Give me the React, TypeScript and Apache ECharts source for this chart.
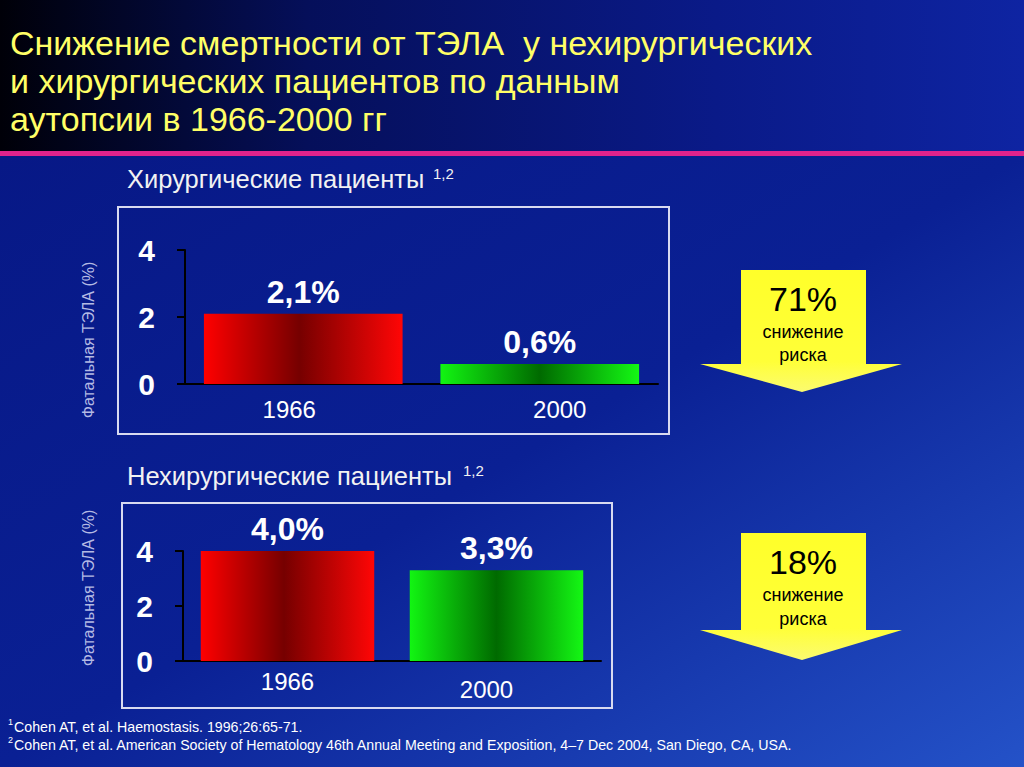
import React, { useEffect, useRef } from "react";
import * as echarts from "echarts";

const years = ["1966", "2000"];
const surgicalValues = [2.1, 0.6];
const nonSurgicalValues = [4.0, 3.3];
const yMin = 0;
const yMax = 4;
const yInterval = 2;
const riskReduction = ["71%", "18%"];
const titleLines = [
  "Снижение смертности от ТЭЛА  у нехирургических",
  "и хирургических пациентов по данным",
  "аутопсии в 1966-2000 гг",
];
const panelTitles = ["Хирургические пациенты", "Нехирургические пациенты"];
const yAxisName = "Фатальная ТЭЛА (%)";
const footnotes = [
  "Cohen AT, et al. Haemostasis. 1996;26:65-71.",
  "Cohen AT, et al. American Society of Hematology 46th Annual Meeting and Exposition, 4–7 Dec 2004, San Diego, CA, USA.",
];

const FONT = '"Liberation Sans", Arial, sans-serif';

const fmt = (v: number) => v.toFixed(1).replace(".", ",") + "%";

const redGrad = () =>
  new echarts.graphic.LinearGradient(0, 0, 1, 0, [
    { offset: 0, color: "#ff0000" },
    { offset: 0.48, color: "#760000" },
    { offset: 1, color: "#ff0606" },
  ]);
const greenGrad = () =>
  new echarts.graphic.LinearGradient(0, 0, 1, 0, [
    { offset: 0, color: "#12f512" },
    { offset: 0.5, color: "#006a00" },
    { offset: 1, color: "#14f814" },
  ]);

function arrow(top: number, headY: number, tipY: number) {
  return {
    type: "polygon",
    shape: {
      points: [
        [741, top],
        [866, top],
        [866, headY],
        [902, headY],
        [802, tipY],
        [700, headY],
        [741, headY],
      ],
    },
    style: {
      fill: new echarts.graphic.LinearGradient(0, 0, 0, 1, [
        { offset: 0, color: "#ffff2a" },
        { offset: 0.75, color: "#ffff38" },
        { offset: 1, color: "#fbfb70" },
      ]),
    },
  };
}

function text(x: number, y: number, t: string, font: string, fill: string, extra: any = {}) {
  return {
    type: "text",
    x,
    y,
    ...extra,
    style: {
      text: t,
      font,
      fill,
      textAlign: extra.align || "left",
      textVerticalAlign: "middle",
    },
  };
}

// label nudges per category (padding) to match the slide's hand placement
const topLabelPadding = [
  [0, 28, 0, 0],
  [0, 0, 0, 40],
];
const bottomLabelPadding = [
  [0, 0, 0, 0],
  [8, 20, 0, 0],
];

export default function App() {
  const ref = useRef<HTMLDivElement>(null);
  useEffect(() => {
    if (!ref.current) return;
    const chart = echarts.init(ref.current, undefined, { renderer: "svg" });

    const axisCommonY = (gridIndex: number) => ({
      type: "value",
      gridIndex,
      min: yMin,
      max: yMax,
      interval: yInterval,
      splitLine: { show: false },
      axisLine: { show: true, lineStyle: { color: "#000000", width: 2 } },
      axisTick: { show: true, length: 8, lineStyle: { color: "#000000", width: 2 } },
      axisLabel: {
        color: "#ffffff",
        fontSize: 30,
        fontWeight: "bold",
        fontFamily: FONT,
        margin: 30,
      },
    });
    const axisCommonX = (gridIndex: number, margin: number, pads: number[][]) => ({
      type: "category",
      gridIndex,
      data: years.map((y, i) => ({ value: y, textStyle: { padding: pads[i] } })),
      axisLine: { show: true, lineStyle: { color: "#000000", width: 2 } },
      axisTick: { show: false },
      axisLabel: { color: "#ffffff", fontSize: 24, fontFamily: FONT, margin },
    });
    const barLabel = {
      show: true,
      position: "top",
      distance: 6,
      formatter: (p: any) => fmt(p.value),
      color: "#ffffff",
      fontSize: 32,
      fontWeight: "bold",
      fontFamily: FONT,
    };

    const option: any = {
      animation: false,
      backgroundColor: "#0a1f90",
      graphic: [
        {
          type: "rect",
          shape: { x: 0, y: 155, width: 1024, height: 612 },
          style: {
            fill: new echarts.graphic.LinearGradient(0, 0, 1, 1, [
              { offset: 0, color: "#071886" },
              { offset: 0.5, color: "#0a2094" },
              { offset: 1, color: "#2452c8" },
            ]),
          },
        },
        {
          type: "rect",
          shape: { x: 0, y: 0, width: 1024, height: 153 },
          style: {
            fill: new echarts.graphic.LinearGradient(0, 0, 1, 0, [
              { offset: 0, color: "#000008" },
              { offset: 0.3, color: "#050f5a" },
              { offset: 0.7, color: "#0a1a88" },
              { offset: 1, color: "#0e24a2" },
            ]),
          },
        },
        {
          type: "rect",
          shape: { x: 0, y: 151, width: 1024, height: 5 },
          style: { fill: "#e0238c" },
        },
        ...titleLines.map((t, i) =>
          text(10, 43 + i * 38, t, `normal 34px ${FONT}`, "#ffff66")
        ),
        text(127, 179, panelTitles[0], `normal 25.5px ${FONT}`, "#f2f2f2"),
        text(433, 173, "1,2", `normal 15px ${FONT}`, "#f2f2f2"),
        text(127, 476, panelTitles[1], `normal 25.5px ${FONT}`, "#f2f2f2"),
        text(463, 470, "1,2", `normal 15px ${FONT}`, "#f2f2f2"),
        {
          type: "rect",
          shape: { x: 118, y: 207, width: 551, height: 227 },
          style: { fill: "none", stroke: "#d8daf0", lineWidth: 2 },
        },
        {
          type: "rect",
          shape: { x: 122, y: 503, width: 490, height: 205 },
          style: { fill: "none", stroke: "#d8daf0", lineWidth: 2 },
        },
        text(88, 340, yAxisName, `normal 16px ${FONT}`, "#b4bae4", {
          rotation: Math.PI / 2,
          align: "center",
        }),
        text(88, 588, yAxisName, `normal 16px ${FONT}`, "#b4bae4", {
          rotation: Math.PI / 2,
          align: "center",
        }),
        arrow(270, 364, 392),
        arrow(533, 630, 660),
        text(803, 299, riskReduction[0], `normal 34px ${FONT}`, "#000000", { align: "center" }),
        text(803, 332, "снижение", `normal 18px ${FONT}`, "#000000", { align: "center" }),
        text(803, 355, "риска", `normal 18px ${FONT}`, "#000000", { align: "center" }),
        text(803, 562, riskReduction[1], `normal 34px ${FONT}`, "#000000", { align: "center" }),
        text(803, 595, "снижение", `normal 18px ${FONT}`, "#000000", { align: "center" }),
        text(803, 619, "риска", `normal 18px ${FONT}`, "#000000", { align: "center" }),
        text(8, 722, "1", `normal 9px ${FONT}`, "#ffffff"),
        text(14, 727, footnotes[0], `normal 14.2px ${FONT}`, "#ffffff"),
        text(8, 740, "2", `normal 9px ${FONT}`, "#ffffff"),
        text(14, 745, footnotes[1], `normal 14.2px ${FONT}`, "#ffffff"),
      ],
      grid: [
        { left: 185, top: 250, width: 473, height: 134 },
        { left: 183, top: 551, width: 418, height: 110 },
      ],
      xAxis: [axisCommonX(0, 13, topLabelPadding), axisCommonX(1, 8, bottomLabelPadding)],
      yAxis: [axisCommonY(0), axisCommonY(1)],
      series: [
        {
          type: "bar",
          xAxisIndex: 0,
          yAxisIndex: 0,
          barWidth: "84%",
          data: surgicalValues.map((v, i) => ({
            value: v,
            itemStyle: { color: i === 0 ? redGrad() : greenGrad() },
          })),
          label: barLabel,
        },
        {
          type: "bar",
          xAxisIndex: 1,
          yAxisIndex: 1,
          barWidth: "83%",
          data: nonSurgicalValues.map((v, i) => ({
            value: v,
            itemStyle: { color: i === 0 ? redGrad() : greenGrad() },
          })),
          label: barLabel,
        },
      ],
    };
    chart.setOption(option);
    return () => chart.dispose();
  }, []);
  return (
    <div
      ref={ref}
      style={{ position: "fixed", left: 0, top: 0, width: 1024, height: 767 }}
    />
  );
}
